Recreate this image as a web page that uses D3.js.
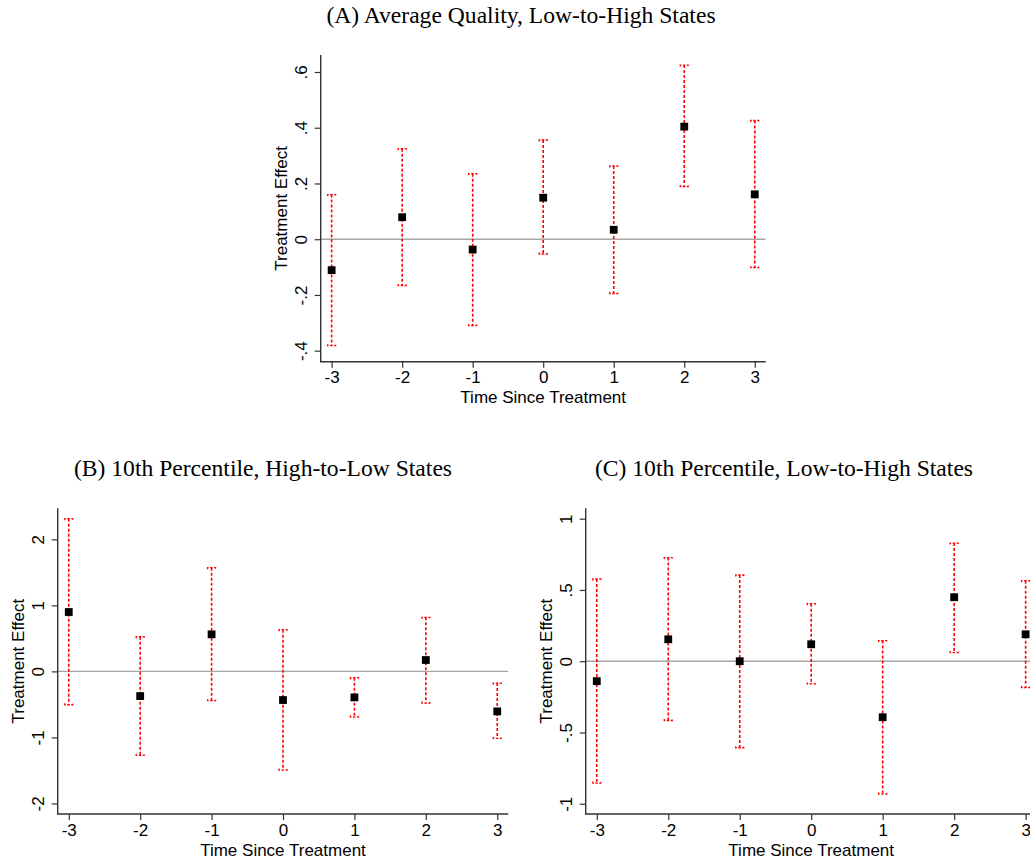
<!DOCTYPE html>
<html>
<head>
<meta charset="utf-8">
<script src="https://cdn.jsdelivr.net/npm/d3@7"></script>
<style>
  html, body { margin: 0; padding: 0; background: #fff; }
  svg { display: block; }
</style>
</head>
<body>
<svg id="chart" width="1030" height="862"></svg>
<script>
// ---- data ----
const periods = [-3, -2, -1, 0, 1, 2, 3];
const xTickLabels = ["-3", "-2", "-1", "0", "1", "2", "3"];

const titleA = "(A) Average Quality, Low-to-High States";
const effA = [-0.111, 0.079, -0.037, 0.149, 0.034, 0.404, 0.161];
const loA  = [-0.382, -0.166, -0.310, -0.053, -0.195, 0.189, -0.102];
const hiA  = [0.160, 0.325, 0.235, 0.356, 0.263, 0.625, 0.426];
const yTicksA = [-0.4, -0.2, 0, 0.2, 0.4, 0.6];
const yTickLabelsA = ["-.4", "-.2", "0", ".2", ".4", ".6"];

const titleB = "(B) 10th Percentile, High-to-Low States";
const effB = [0.899, -0.374, 0.561, -0.434, -0.394, 0.172, -0.606];
const loB  = [-0.505, -1.273, -0.444, -1.495, -0.692, -0.480, -1.015];
const hiB  = [2.313, 0.525, 1.571, 0.631, -0.096, 0.818, -0.177];
const yTicksB = [-2, -1, 0, 1, 2];
const yTickLabelsB = ["-2", "-1", "0", "1", "2"];

const titleC = "(C) 10th Percentile, Low-to-High States";
const effC = [-0.140, 0.154, 0.000, 0.119, -0.393, 0.449, 0.189];
const loC  = [-0.855, -0.416, -0.607, -0.159, -0.932, 0.061, -0.185];
const hiC  = [0.577, 0.727, 0.605, 0.404, 0.145, 0.829, 0.565];
const yTicksC = [-1, -0.5, 0, 0.5, 1];
const yTickLabelsC = ["-1", "-.5", "0", ".5", "1"];

const xLabel = "Time Since Treatment";
const yLabel = "Treatment Effect";

// ---- drawing ----
const svg = d3.select("#chart");
const SANS = "'Liberation Sans', Arial, sans-serif";
const SERIF = "'Liberation Serif', 'Times New Roman', serif";

function drawTitle(text, cx, baseline) {
  svg.append("text")
    .attr("x", cx).attr("y", baseline)
    .attr("text-anchor", "middle")
    .attr("font-family", SERIF)
    .attr("font-size", 23.6)
    .attr("fill", "#000")
    .text(text);
}

function drawPanel(cfg) {
  const { left, right, top, bottom, yDomain, eff, lo, hi, yTicks, yTickLabels } = cfg;
  const x = d3.scaleLinear().domain([-3.155, 3.155]).range([left, right]);
  const y = d3.scaleLinear().domain(yDomain).range([bottom, top]);
  const g = svg.append("g");

  // zero line
  g.append("line")
    .attr("x1", left).attr("x2", right)
    .attr("y1", y(0)).attr("y2", y(0))
    .attr("stroke", "#a6a6a6").attr("stroke-width", 1.4);

  // y axis
  const yAxis = d3.axisLeft(y).tickValues(yTicks)
    .tickFormat((d, i) => yTickLabels[i]).tickSize(6).tickPadding(0);
  const ya = g.append("g").attr("transform", `translate(${left},0)`).call(yAxis);
  ya.select(".domain").attr("stroke", "#333").attr("stroke-width", 1.4)
    .attr("d", `M0,${top}V${bottom + 0.5}`);
  ya.selectAll(".tick line").attr("stroke", "#333").attr("stroke-width", 1.2);
  ya.selectAll(".tick text")
    .attr("font-family", SANS).attr("font-size", 17).attr("fill", "#000")
    .attr("transform", "rotate(-90)")
    .attr("x", 0).attr("y", -14).attr("dy", 0)
    .attr("text-anchor", "middle");

  // x axis
  const xAxis = d3.axisBottom(x).tickValues(periods)
    .tickFormat((d, i) => xTickLabels[i]).tickSize(6).tickPadding(4);
  const xa = g.append("g").attr("transform", `translate(0,${bottom})`).call(xAxis);
  xa.select(".domain").attr("stroke", "#333").attr("stroke-width", 1.4)
    .attr("d", `M${left - 0.5},0H${right}`);
  xa.selectAll(".tick line").attr("stroke", "#333").attr("stroke-width", 1.2);
  xa.selectAll(".tick text")
    .attr("font-family", SANS).attr("font-size", 17).attr("fill", "#000")
    .attr("y", 21.5).attr("dy", 0);

  // axis titles
  g.append("text")
    .attr("transform", `translate(${left - 33.7},${(top + bottom) / 2}) rotate(-90)`)
    .attr("text-anchor", "middle")
    .attr("font-family", SANS).attr("font-size", 17).attr("fill", "#000")
    .text(yLabel);
  g.append("text")
    .attr("x", (x(-3) + x(3)) / 2).attr("y", bottom + 41.5)
    .attr("text-anchor", "middle")
    .attr("font-family", SANS).attr("font-size", 17).attr("fill", "#000")
    .text(xLabel);

  // error bars
  const rows = periods.map((p, i) => ({ p, e: eff[i], lo: lo[i], hi: hi[i] }));
  const eb = g.append("g")
    .attr("stroke", "#ff0000").attr("stroke-width", 1.6)
    .attr("stroke-dasharray", "3,2").attr("fill", "none");
  eb.selectAll("line.bar").data(rows).join("line").attr("class", "bar")
    .attr("x1", d => x(d.p)).attr("x2", d => x(d.p))
    .attr("y1", d => y(d.hi)).attr("y2", d => y(d.lo));
  eb.selectAll("path.capTop").data(rows).join("path").attr("class", "capTop")
    .attr("stroke-dasharray", "2.5,1.5").attr("stroke-width", 1.3)
    .attr("d", d => `M${x(d.p) - 4},${y(d.hi) + 1.5}V${y(d.hi)}H${x(d.p) + 4}V${y(d.hi) + 1.5}`);
  eb.selectAll("path.capBot").data(rows).join("path").attr("class", "capBot")
    .attr("stroke-dasharray", "2.5,1.5").attr("stroke-width", 1.3)
    .attr("d", d => `M${x(d.p) - 4},${y(d.lo) - 1.5}V${y(d.lo)}H${x(d.p) + 4}V${y(d.lo) - 1.5}`);

  // point estimates
  const s = 7.8;
  g.selectAll("rect.pt").data(rows).join("rect").attr("class", "pt")
    .attr("x", d => x(d.p) - s / 2).attr("y", d => y(d.e) - s / 2)
    .attr("width", s).attr("height", s).attr("fill", "#000");
}

drawTitle(titleA, 521, 23);
drawTitle(titleB, 263, 476);
drawTitle(titleC, 784, 476);

drawPanel({ left: 320.7, right: 765.7, top: 55, bottom: 361.7,
  yDomain: [-0.4395, 0.661], eff: effA, lo: loA, hi: hiA,
  yTicks: yTicksA, yTickLabels: yTickLabelsA });

drawPanel({ left: 57.7, right: 508.3, top: 508.3, bottom: 814,
  yDomain: [-2.16, 2.47], eff: effB, lo: loB, hi: hiB,
  yTicks: yTicksB, yTickLabels: yTickLabelsB });

drawPanel({ left: 585.7, right: 1036.7, top: 508.3, bottom: 814,
  yDomain: [-1.072, 1.073], eff: effC, lo: loC, hi: hiC,
  yTicks: yTicksC, yTickLabels: yTickLabelsC });
</script>
</body>
</html>
